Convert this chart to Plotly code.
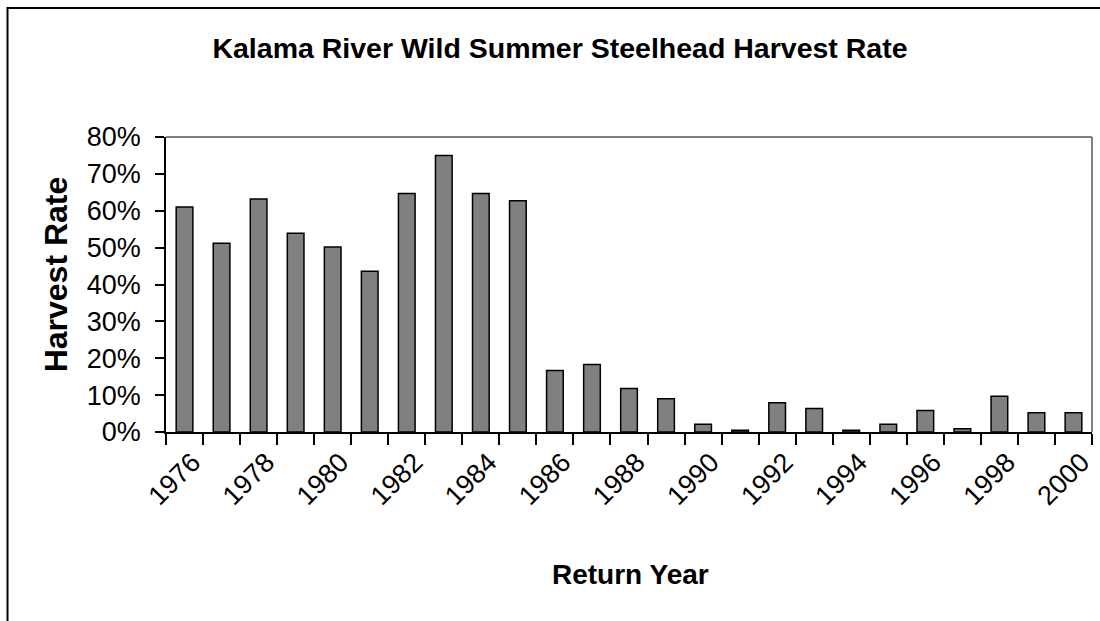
# -*- coding: utf-8 -*-
import plotly.graph_objects as go

## Harvest rate by return year
years = list(range(1976, 2001))
harvest_rate = [0.610, 0.512, 0.632, 0.539, 0.502, 0.436, 0.647, 0.750, 0.647, 0.627,
                0.167, 0.183, 0.118, 0.090, 0.021, 0.005, 0.079, 0.064, 0.005, 0.021,
                0.058, 0.009, 0.097, 0.052, 0.052]
label_years = list(range(1976, 2001, 2))

W, H = 1100, 621
L, R, T, B = 166, 1095, 137, 432

def px_x(p):
    return (p - L) / (R - L)

def px_y(p):
    return (B - p) / (B - T)

fig = go.Figure()
fig.add_trace(go.Bar(x=years, y=harvest_rate, width=0.45,
                     marker=dict(color='#808080', line=dict(color='black', width=1.5))))

fig.update_layout(
    width=W, height=H,
    margin=dict(l=L, r=W - R, t=T, b=H - B),
    paper_bgcolor='white', plot_bgcolor='white',
    showlegend=False,
    font=dict(family='Liberation Sans, Arial, sans-serif', color='black', size=27),
    title=dict(text='<b>Kalama River Wild Summer Steelhead Harvest Rate</b>',
               font=dict(size=28.5), x=560 / W, xanchor='center',
               y=1 - 48 / H, yanchor='middle', xref='container', yref='container'),
    xaxis=dict(range=[1975.5, 2000.5], tickvals=label_years, ticktext=[str(y) for y in label_years],
               tickangle=-45, ticks='', ticklabelshift=8, ticklabelstandoff=2,
               showline=True, linecolor='black', linewidth=1.5, showgrid=False, zeroline=False,
               minor=dict(ticks='outside', tick0=1975.5, dtick=1, ticklen=11,
                          tickcolor='black', tickwidth=1.5, showgrid=False)),
    yaxis=dict(range=[0, 0.8], dtick=0.1, tickformat='.0%', ticks='outside', ticklen=9,
               tickcolor='black', tickwidth=1.5, ticklabelstandoff=9,
               showline=True, linecolor='black', linewidth=1.5,
               showgrid=False, zeroline=False),
)

# gray top and right border of the plot area
fig.add_shape(type='line', xref='x domain', yref='y domain', x0=0, x1=1, y0=1, y1=1,
              line=dict(color='#808080', width=2))
fig.add_shape(type='line', xref='x domain', yref='y domain', x0=1, x1=1, y0=0, y1=1,
              line=dict(color='#808080', width=2))
# outer chart frame
fig.add_shape(type='rect', xref='paper', yref='paper', x0=px_x(7), x1=px_x(1110),
              y0=px_y(640), y1=px_y(8), line=dict(color='black', width=2), layer='below')

fig.add_annotation(text='<b>Harvest Rate</b>', textangle=-90, xref='paper', yref='paper',
                   x=px_x(56), y=px_y(274), xanchor='center', yanchor='middle',
                   showarrow=False, font=dict(size=32))
fig.add_annotation(text='<b>Return Year</b>', xref='paper', yref='paper',
                   x=px_x(632), y=px_y(574), xanchor='center', yanchor='middle',
                   showarrow=False, font=dict(size=28))

fig.write_html("out.html", config=dict(displayModeBar=False),
               post_script="document.body.style.margin='0';document.body.style.overflow='hidden';")
